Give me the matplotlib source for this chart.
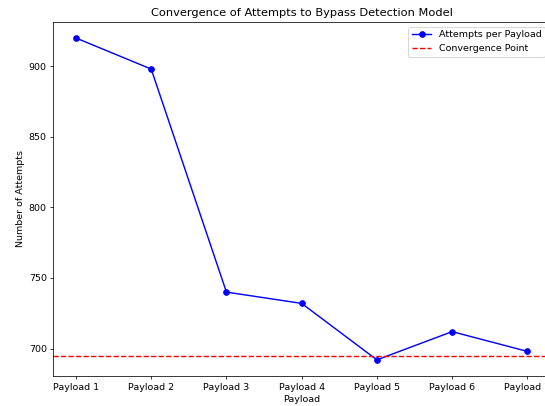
import numpy as np
import matplotlib
matplotlib.use('Agg')
import matplotlib.pyplot as plt


payloads = ['Payload 1', 'Payload 2', 'Payload 3', 'Payload 4', 'Payload 5', 'Payload 6', 'Payload 7']
attempts = [920, 898, 740, 732, 692, 712, 698]
convergence = 695


if __name__ == '__main__':
    dpi = 68
    fig = plt.figure(figsize=(545 / dpi, 406 / dpi), dpi=dpi)
    # the original picture is cut on the right, so the axes run past the edge
    ax = fig.add_axes([0.098, 0.074, 0.911, 0.872])

    ax.plot(payloads, attempts, marker='o', color='b', label='Attempts per Payload')
    ax.axhline(convergence, color='r', linestyle='--', label='Convergence Point')

    ax.set_title('Convergence of Attempts to Bypass Detection Model')
    ax.set_xlabel('Payload')
    ax.set_ylabel('Number of Attempts')
    ax.legend(loc='upper right')

    fig.savefig('out.png', dpi=dpi)
